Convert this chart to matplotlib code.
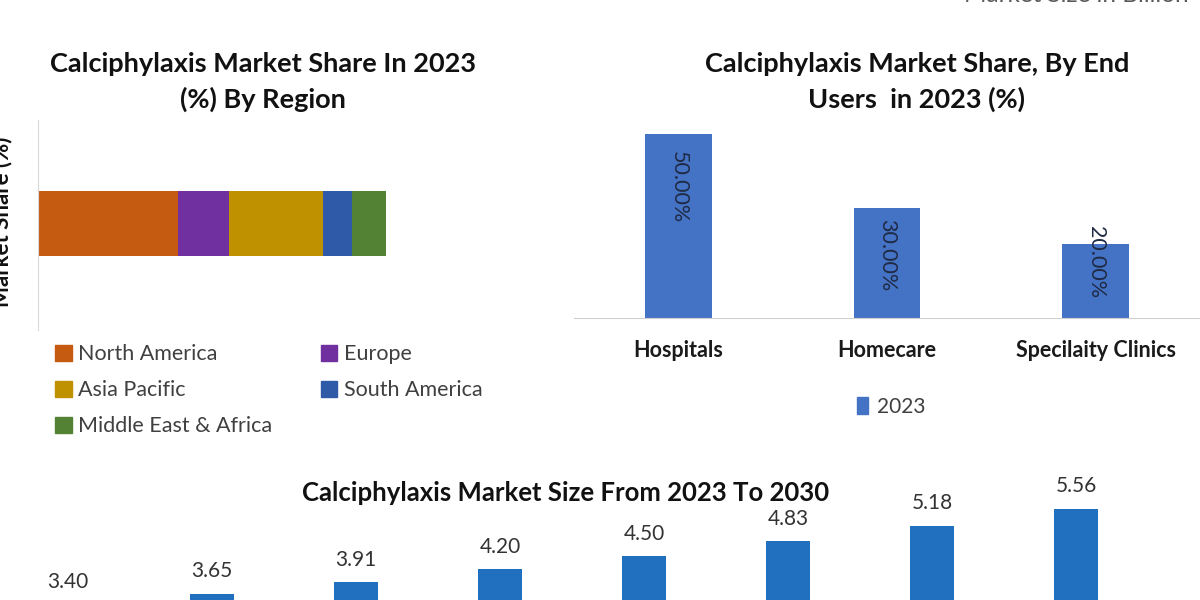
import matplotlib
matplotlib.use("Agg")
import matplotlib.pyplot as plt
from matplotlib.patches import Patch

plt.rcParams['font.family'] = ['Lato', 'DejaVu Sans']

# ---------------- data ----------------
regions = ["North America", "Europe", "Asia Pacific", "South America", "Middle East & Africa"]
region_share = [40.3, 14.6, 27.2, 8.1, 9.8]
region_colors = ["#c55a11", "#7030a0", "#bf9000", "#2e5aa8", "#548235"]

end_users = ["Hospitals", "Homecare", "Specilaity Clinics"]
end_share = [50.0, 30.0, 20.0]
end_labels = ["50.00%", "30.00%", "20.00%"]

years = ["2023", "2024", "2025", "2026", "2027", "2028", "2029", "2030"]
market_size = [3.40, 3.65, 3.91, 4.20, 4.50, 4.83, 5.18, 5.56]

W, H = 1200, 600
fig = plt.figure(figsize=(12, 6), dpi=100)
fig.patch.set_facecolor("white")

def rect(l, t, r, b):
    return [l / W, (H - b) / H, (r - l) / W, (b - t) / H]

# ---------------- top-left: stacked bar by region ----------------
ax1 = fig.add_axes(rect(38, 120, 490, 330))
left = 0
for name, v, c in zip(regions, region_share, region_colors):
    ax1.barh(0.507, v, left=left, height=0.31, color=c, label=name)
    left += v
ax1.set_xlim(0, 130)
ax1.set_ylim(0, 1)
for s in ["top", "right", "bottom"]:
    ax1.spines[s].set_visible(False)
ax1.spines["left"].set_color("#d9d9d9")
ax1.set_xticks([])
ax1.set_yticks([])

fig.text(263 / W, (H - 82) / H, "Calciphylaxis Market Share In 2023\n(%) By Region",
         ha="center", va="center", fontsize=19.5, fontweight="bold", color="#111111",
         linespacing=1.5)
fig.text(2 / W, (H - 222) / H, "Market Share (%)", rotation=90, ha="center", va="center",
         fontsize=16, fontweight="bold", color="#111111")

order = [0, 2, 4, 1, 3]
handles = [Patch(color=region_colors[i]) for i in order]
labels = [regions[i] for i in order]
leg1 = fig.legend(handles, labels, ncol=2, loc="upper left",
                  bbox_to_anchor=(36 / W, (H - 325) / H), frameon=False,
                  fontsize=15.5, handlelength=0.75, handleheight=0.75,
                  handletextpad=0.3, columnspacing=2.27, labelspacing=0.74,
                  labelcolor="#404040")

# ---------------- top-right: end users ----------------
ax2 = fig.add_axes(rect(574, 97, 1200, 318))
x2 = list(range(len(end_users)))
ax2.bar(x2, end_share, width=0.32, color="#4472c4", label="2023")
ax2.set_xlim(-0.5, 2.5)
ax2.set_ylim(0, 60)
for s in ["top", "right", "left"]:
    ax2.spines[s].set_visible(False)
ax2.spines["bottom"].set_color("#d0d0d0")
ax2.set_yticks([])
ax2.set_xticks(x2)
ax2.set_xticklabels(end_users, fontsize=15.5, fontweight="bold", color="#1a1a1a")
ax2.tick_params(axis="x", length=0, pad=16)
label_offsets = [-12, -8, 13]
for xi, v, lab, off in zip(x2, end_share, end_labels, label_offsets):
    ax2.annotate(lab, (xi, v), xytext=(0, off), textcoords="offset points",
                 rotation=270, ha="center", va="top", fontsize=15.5, color="#1f2a44")

fig.text(917 / W, (H - 82) / H, "Calciphylaxis Market Share, By End\nUsers  in 2023 (%)",
         ha="center", va="center", fontsize=19.5, fontweight="bold", color="#111111",
         linespacing=1.5)
leg2 = fig.legend([Patch(color="#4472c4")], ["2023"], loc="center",
                  bbox_to_anchor=(891 / W, (H - 407) / H), frameon=False,
                  fontsize=15, handlelength=0.55, handleheight=0.9,
                  handletextpad=0.4, labelcolor="#404040")

fig.text(1076 / W, (H + 5) / H, "Market Size in Billion", ha="center", va="center",
         fontsize=17.5, color="#595959")

# ---------------- bottom: market size ----------------
ax3 = fig.add_axes(rect(-4, 445, 1148, 756))
x3 = list(range(len(years)))
ax3.bar(x3, market_size, width=0.31, color="#2170c0", edgecolor="none")
ax3.set_xlim(-0.5, 7.5)
ax3.set_ylim(0, 7)
ax3.axis("off")
for xi, v in zip(x3, market_size):
    ax3.annotate(f"{v:.2f}", (xi, v), xytext=(0, 9), textcoords="offset points",
                 ha="center", va="bottom", fontsize=15, color="#333333")

fig.text(566 / W, (H - 493) / H, "Calciphylaxis Market Size From 2023 To 2030",
         ha="center", va="center", fontsize=18.5, fontweight="bold", color="#111111")

fig.savefig("out.png", dpi=100, facecolor="white")
